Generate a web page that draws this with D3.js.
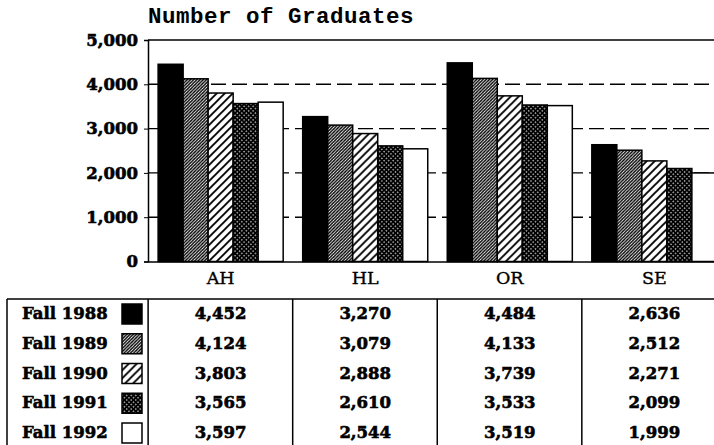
<!DOCTYPE html>
<html>
<head>
<meta charset="utf-8">
<script src="https://cdn.jsdelivr.net/npm/d3@7"></script>
<style>
  body { margin: 0; background: #fff; }
  svg { display: block; }
  .serif { font-family: "DejaVu Serif", serif; }
  .heavy { font-weight: bold; stroke: #000; stroke-width: 0.6px; }
</style>
</head>
<body>
<svg id="chart" width="714" height="445"></svg>
<script>
/* graduates by area, fall 1988-1992 */
const categories = ["AH", "HL", "OR", "SE"];
const seriesNames = ["Fall 1988", "Fall 1989", "Fall 1990", "Fall 1991", "Fall 1992"];
const fall1988 = [4452, 3270, 4484, 2636];
const fall1989 = [4124, 3079, 4133, 2512];
const fall1990 = [3803, 2888, 3739, 2271];
const fall1991 = [3565, 2610, 3533, 2099];
const fall1992 = [3597, 2544, 3519, 1999];
const yTicks = [0, 1000, 2000, 3000, 4000, 5000];
const titleText = "Number of Graduates";

const seriesValues = [fall1988, fall1989, fall1990, fall1991, fall1992];
const fills = ["#000", "url(#hatchDense)", "url(#hatchWide)", "url(#checker)", "#fff"];

var svg = d3.select("#chart");
svg.append("rect").attr("width", 714).attr("height", 445).attr("fill", "#fff");

// fill patterns
var defs = svg.append("defs");
var p1 = defs.append("pattern").attr("id", "hatchDense")
	.attr("patternUnits", "userSpaceOnUse").attr("width", 3.2).attr("height", 3.2);
p1.append("rect").attr("width", 3.2).attr("height", 3.2).attr("fill", "#fff");
p1.append("path").attr("d", "M-1,1 l2,-2 M0,3.2 l3.2,-3.2 M2.2,4.2 l2,-2")
	.attr("stroke", "#000").attr("stroke-width", 1.4);

var p2 = defs.append("pattern").attr("id", "hatchWide")
	.attr("patternUnits", "userSpaceOnUse").attr("width", 8).attr("height", 8);
p2.append("rect").attr("width", 8).attr("height", 8).attr("fill", "#fff");
p2.append("path").attr("d", "M-2,2 l4,-4 M0,8 l8,-8 M6,10 l4,-4")
	.attr("stroke", "#000").attr("stroke-width", 1.9);

var p3 = defs.append("pattern").attr("id", "checker")
	.attr("patternUnits", "userSpaceOnUse").attr("width", 3.2).attr("height", 3.2)
	.attr("patternTransform", "rotate(45)");
p3.append("rect").attr("width", 3.2).attr("height", 3.2).attr("fill", "#000");
p3.append("rect").attr("x", 1).attr("y", 1).attr("width", 1.2).attr("height", 1.2).attr("fill", "#fff");

// scales
var x = d3.scaleBand().domain(categories).range([148, 727])
	.paddingInner(0.135).paddingOuter(0.07);
var xs = d3.scaleBand().domain(seriesNames).range([0, x.bandwidth()]);
var y = d3.scaleLinear().domain([0, 5000]).range([261.5, 40]);

// title
svg.append("text").attr("x", 148).attr("y", 23)
	.style("font-family", "'Liberation Mono', monospace").style("font-weight", "bold")
	.style("font-size", "22.5px").style("letter-spacing", "0.5px")
	.text(titleText);

// grid
svg.append("g").selectAll("line").data(yTicks.filter(d => d > 0 && d < 5000)).enter()
	.append("line")
	.attr("x1", 148).attr("x2", 727)
	.attr("y1", d => y(d)).attr("y2", d => y(d))
	.attr("stroke", "#000").attr("stroke-width", 1.4)
	.attr("stroke-dasharray", "15,6");

// bars
var groups = svg.append("g").selectAll("g").data(categories).enter()
	.append("g").attr("transform", d => "translate(" + x(d) + ",0)");

groups.selectAll("rect")
	.data((c, ci) => seriesNames.map((s, si) => ({ s: s, si: si, v: seriesValues[si][ci] })))
	.enter().append("rect")
	.attr("x", d => xs(d.s))
	.attr("y", d => y(d.v))
	.attr("width", xs.bandwidth())
	.attr("height", d => y(0) - y(d.v))
	.attr("fill", d => fills[d.si])
	.attr("stroke", "#000").attr("stroke-width", 1.5);

// frame: top, left, bottom
svg.append("line").attr("x1", 148).attr("x2", 727).attr("y1", y(5000)).attr("y2", y(5000))
	.attr("stroke", "#000").attr("stroke-width", 1.5);

var yAxis = svg.append("g").attr("transform", "translate(148,0)")
	.call(d3.axisLeft(y).tickValues(yTicks).tickSize(4).tickPadding(6).tickFormat(d3.format(",")));
yAxis.select(".domain").attr("stroke-width", 1.5);
yAxis.selectAll("text")
	.attr("class", "serif heavy").style("font-size", "16.5px")
	.attr("fill", "#000");

var xAxis = svg.append("g").attr("transform", "translate(0," + y(0) + ")")
	.call(d3.axisBottom(x).tickSize(0).tickPadding(10));
xAxis.select(".domain").attr("stroke-width", 1.7);
xAxis.selectAll("text")
	.attr("class", "serif").style("font-size", "17.5px")
	.style("stroke", "#000").style("stroke-width", "0.4px")
	.attr("fill", "#000");

// data table
var tableTop = 299, rowY0 = 313, rowStep = 29.75;
var table = svg.append("g").attr("stroke", "#000").attr("stroke-width", 1.5);
table.append("line").attr("x1", 7).attr("x2", 714).attr("y1", tableTop).attr("y2", tableTop);
table.append("line").attr("x1", 7).attr("x2", 7).attr("y1", tableTop).attr("y2", 445);
table.selectAll(".col").data(categories).enter().append("line")
	.attr("class", "col")
	.attr("x1", d => x(d) - 10).attr("x2", d => x(d) - 10)
	.attr("y1", tableTop).attr("y2", 445);

var rows = svg.append("g").selectAll("g").data(seriesNames).enter()
	.append("g").attr("transform", (d, i) => "translate(0," + (rowY0 + i * rowStep) + ")");

rows.append("text").attr("x", 22).attr("y", 6)
	.attr("class", "serif heavy").style("font-size", "16.5px")
	.text(d => d);

rows.append("rect").attr("x", 122).attr("y", -9).attr("width", 20).attr("height", 20)
	.attr("fill", (d, i) => fills[i]).attr("stroke", "#000").attr("stroke-width", 1.5);

rows.selectAll(".val")
	.data((s, si) => categories.map((c, ci) => ({ c: c, v: seriesValues[si][ci] })))
	.enter().append("text").attr("class", "val serif heavy")
	.attr("x", d => x(d.c) + x.bandwidth() / 2).attr("y", 6)
	.attr("text-anchor", "middle")
	.style("font-size", "16.5px")
	.text(d => d3.format(",")(d.v));
</script>
</body>
</html>
